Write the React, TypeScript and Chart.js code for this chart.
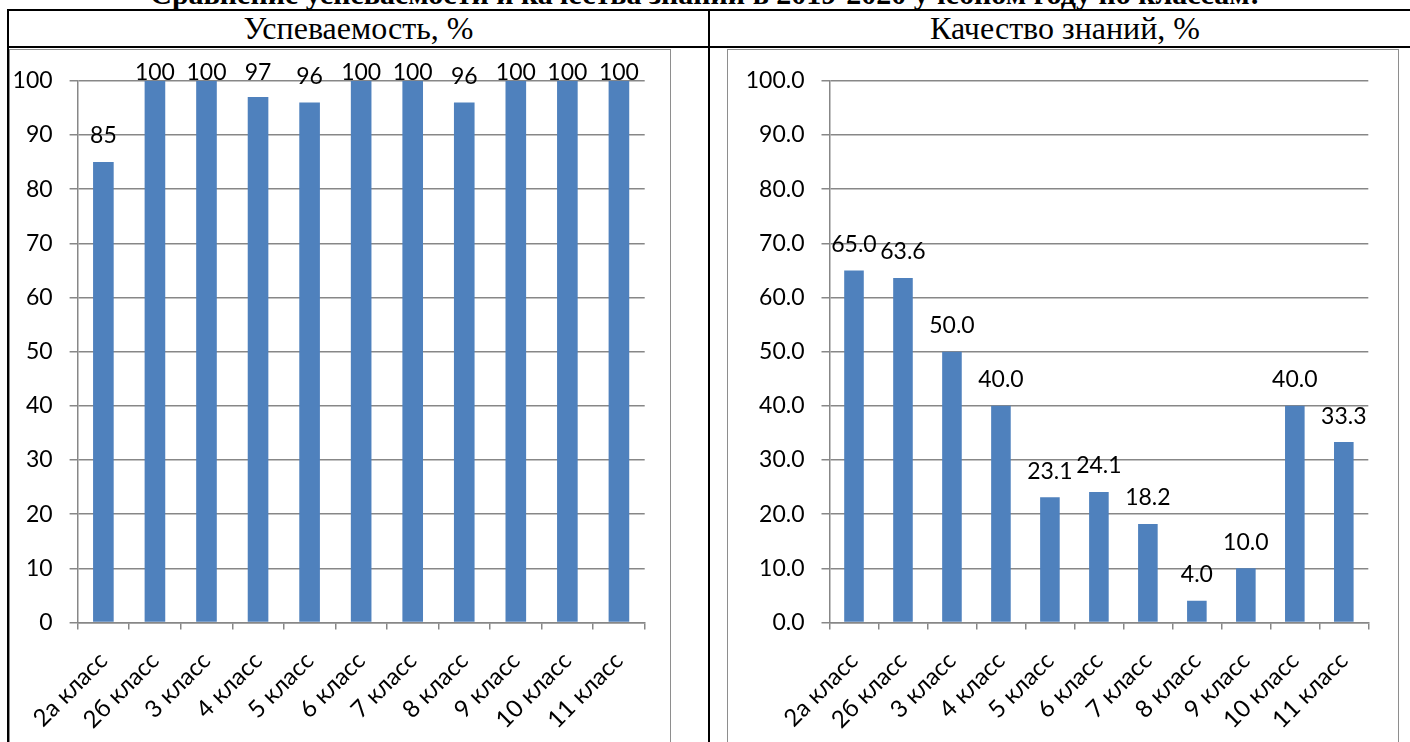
import React, { useEffect, useRef } from "react";
import { Chart, registerables } from "chart.js";

Chart.register(...registerables);

const titleText = "Сравнение успеваемости и качества знаний в 2019-2020 учебном году по классам:";
const leftHeader = "Успеваемость, %";
const rightHeader = "Качество знаний, %";

const categories = [
  "2а класс",
  "2б класс",
  "3 класс",
  "4 класс",
  "5 класс",
  "6 класс",
  "7 класс",
  "8 класс",
  "9 класс",
  "10 класс",
  "11 класс",
];

const progressValues = [85, 100, 100, 97, 96, 100, 100, 96, 100, 100, 100];
const qualityValues = [65.0, 63.6, 50.0, 40.0, 23.1, 24.1, 18.2, 4.0, 10.0, 40.0, 33.3];

const progressDecimals = 0;
const qualityDecimals = 1;
const yMin = 0;
const yMax = 100;
const yStep = 10;

const FONT_FAMILY = "Lato, Carlito, Calibri, sans-serif";
const FONT_SIZE = 23;
const X_FONT_SIZE = 24;
const GRID = "#878787";
const BAR = "#4F81BD";

const valueLabels = {
  id: "valueLabels",
  afterDatasetsDraw(chart: any, _args: any, opts: any) {
    const { ctx, chartArea } = chart;
    const meta = chart.getDatasetMeta(0);
    const values = chart.data.datasets[0].data as number[];
    ctx.save();
    ctx.font = `${FONT_SIZE}px ${FONT_FAMILY}`;
    ctx.fillStyle = "#000";
    ctx.textAlign = "center";
    ctx.textBaseline = "middle";
    meta.data.forEach((bar: any, i: number) => {
      const y = Math.max(bar.y - 26, chartArea.top - 8.3);
      ctx.fillText(Number(values[i]).toFixed(opts.decimals ?? 0), bar.x, y);
    });
    ctx.restore();
  },
};

type BarChartProps = {
  values: number[];
  decimals: number;
  width: number;
  height: number;
  yAxisWidth: number;
  padRight: number;
  padTop: number;
  xAxisHeight: number;
};

function BarChart({ values, decimals, width, height, yAxisWidth, padRight, padTop, xAxisHeight }: BarChartProps) {
  const ref = useRef<HTMLCanvasElement | null>(null);
  useEffect(() => {
    if (!ref.current) return;
    const chart = new Chart(ref.current, {
      type: "bar",
      data: {
        labels: categories,
        datasets: [
          {
            data: values,
            backgroundColor: BAR,
            borderWidth: 0,
            barPercentage: 0.4,
            categoryPercentage: 1.0,
          },
        ],
      },
      plugins: [valueLabels as any],
      options: {
        responsive: false,
        animation: false,
        layout: { padding: { top: padTop, right: padRight, left: 0, bottom: 0 } },
        plugins: {
          legend: { display: false },
          tooltip: { enabled: false },
          title: { display: false },
          valueLabels: { decimals },
        } as any,
        scales: {
          x: {
            offset: true,
            grid: {
              display: true,
              offset: true,
              drawOnChartArea: false,
              drawTicks: true,
              tickLength: 7,
              color: GRID,
              lineWidth: 1.5,
            },
            border: { display: true, color: GRID, width: 1.5 },
            ticks: {
              autoSkip: false,
              maxRotation: 45,
              minRotation: 45,
              padding: 17,
              color: "#000",
              font: { family: FONT_FAMILY, size: X_FONT_SIZE },
            },
            afterFit: (scale: any) => {
              scale.height = xAxisHeight;
            },
          },
          y: {
            min: yMin,
            max: yMax,
            grid: {
              color: GRID,
              lineWidth: 1.5,
              drawTicks: true,
              tickLength: 8,
            },
            border: { display: true, color: GRID, width: 1.5 },
            ticks: {
              stepSize: yStep,
              padding: 17,
              color: "#000",
              font: { family: FONT_FAMILY, size: FONT_SIZE },
              callback: (v: any) => Number(v).toFixed(decimals),
            },
            afterFit: (scale: any) => {
              scale.width = yAxisWidth;
            },
          },
        },
      },
    });
    return () => chart.destroy();
  }, []);
  return <canvas ref={ref} width={width} height={height} style={{ display: "block", width, height }} />;
}

const abs = (s: React.CSSProperties): React.CSSProperties => ({ position: "absolute", ...s });

const serif = "'Liberation Serif', 'Times New Roman', serif";

export default function App() {
  const chartH = 700;
  return (
    <div style={{ position: "relative", width: 1410, height: 742, overflow: "hidden", background: "#fff" }}>
      <style>{`html,body{margin:0;padding:0;overflow:hidden;background:#fff;}`}</style>
      <div
        style={abs({
          left: 0,
          top: -21,
          width: 1410,
          textAlign: "center",
          fontFamily: serif,
          fontWeight: "bold",
          fontSize: 30,
          lineHeight: "30px",
          whiteSpace: "nowrap",
        })}
      >
        {titleText}
      </div>

      <div
        style={abs({
          left: 9,
          top: 11,
          width: 699,
          height: 35,
          lineHeight: "35px",
          textAlign: "center",
          fontFamily: serif,
          fontSize: 32,
          whiteSpace: "nowrap",
        })}
      >
        {leftHeader}
      </div>
      <div
        style={abs({
          left: 710,
          top: 11,
          width: 710,
          height: 35,
          lineHeight: "35px",
          textAlign: "center",
          fontFamily: serif,
          fontSize: 32,
          whiteSpace: "nowrap",
        })}
      >
        {rightHeader}
      </div>

      <div style={abs({ left: 9, top: 49, width: 660, height: chartH + 10, border: "1.5px solid #8e8e8e", background: "#fff" })} />
      <div style={abs({ left: 727, top: 49, width: 670, height: chartH + 10, border: "1.5px solid #8e8e8e", background: "#fff" })} />

      <div style={abs({ left: 10, top: 50 })}>
        <BarChart
          values={progressValues}
          decimals={progressDecimals}
          width={659}
          height={chartH}
          yAxisWidth={67.6}
          padRight={24.3}
          padTop={28.3}
          xAxisHeight={chartH - 572.5}
        />
      </div>
      <div style={abs({ left: 728, top: 50 })}>
        <BarChart
          values={qualityValues}
          decimals={qualityDecimals}
          width={669}
          height={chartH}
          yAxisWidth={101.5}
          padRight={28.7}
          padTop={28.3}
          xAxisHeight={chartH - 572.5}
        />
      </div>

      <div style={abs({ left: 7, top: 9, width: 1410, height: 2, background: "#000" })} />
      <div style={abs({ left: 7, top: 46, width: 1410, height: 2, background: "#000" })} />
      <div style={abs({ left: 7, top: 9, width: 2, height: 740, background: "#000" })} />
      <div style={abs({ left: 708, top: 9, width: 2, height: 740, background: "#000" })} />
    </div>
  );
}
